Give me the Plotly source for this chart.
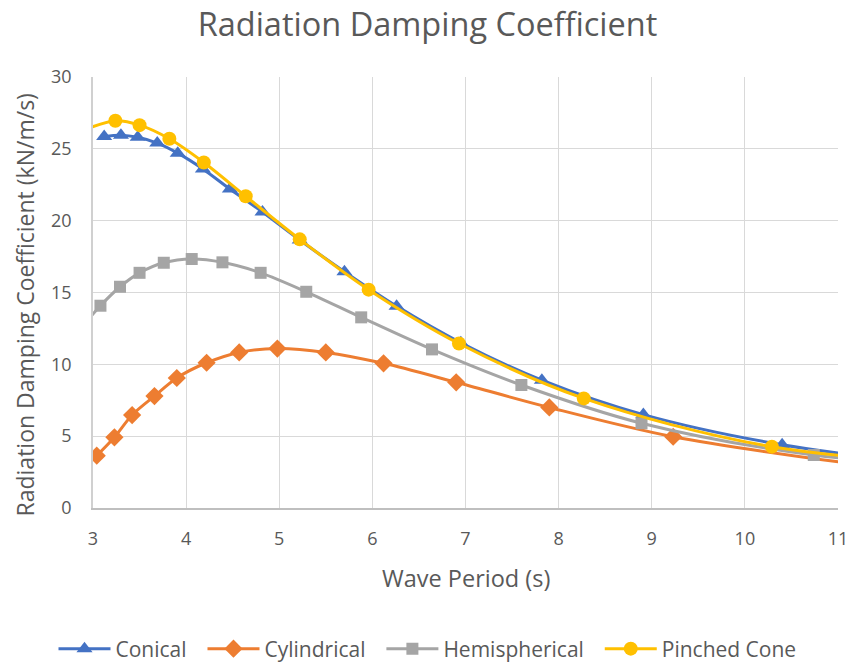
import plotly.graph_objects as go

# Wave period (s) and radiation damping coefficient (kN/m/s)
conical_t = [3.12, 3.30, 3.48, 3.69, 3.91, 4.18, 4.47, 4.82, 5.22, 5.70, 6.26, 6.95, 7.82, 8.91, 10.40, 12.57]
conical_b = [25.85, 25.95, 25.8, 25.4, 24.7, 23.6, 22.2, 20.6, 18.65, 16.45, 14.05, 11.5, 8.9, 6.5, 4.4, 2.6]

cyl_t = [3.04, 3.23, 3.42, 3.66, 3.90, 4.22, 4.57, 4.98, 5.50, 6.12, 6.90, 7.90, 9.23, 11.15]
cyl_b = [3.64, 4.92, 6.47, 7.79, 9.05, 10.11, 10.83, 11.1, 10.83, 10.07, 8.75, 7.0, 4.96, 3.08]

hemi_t = [2.92, 3.08, 3.29, 3.50, 3.76, 4.06, 4.39, 4.80, 5.29, 5.88, 6.64, 7.60, 8.89, 10.74, 13.5]
hemi_b = [12.9, 14.08, 15.4, 16.37, 17.07, 17.33, 17.1, 16.37, 15.05, 13.27, 11.04, 8.56, 5.9, 3.69, 2.3]

pinched_t = [2.90, 3.24, 3.50, 3.82, 4.19, 4.64, 5.22, 5.96, 6.93, 8.27, 10.29, 13.96]
pinched_b = [26.3, 26.95, 26.65, 25.7, 24.05, 21.7, 18.7, 15.2, 11.45, 7.63, 4.27, 2.3]

x_ticks = [3, 4, 5, 6, 7, 8, 9, 10, 11]
y_ticks = [0, 5, 10, 15, 20, 25, 30]

FONT = "Open Sans"
TXT = "#595959"
PAD = "\u00a0\u00a0"

fig = go.Figure()

series = [
    ("Conical" + PAD, conical_t, conical_b, "#4472C4", "triangle-up", 14),
    ("Cylindrical" + PAD, cyl_t, cyl_b, "#ED7D31", "diamond", 14),
    ("Hemispherical" + PAD, hemi_t, hemi_b, "#A5A5A5", "square", 12),
    ("Pinched Cone", pinched_t, pinched_b, "#FFC000", "circle", 14),
]
for name, t, b, col, sym, sz in series:
    fig.add_trace(go.Scatter(
        x=t, y=b, name=name, mode="lines+markers",
        line=dict(color=col, width=3, shape="spline", smoothing=0.9),
        marker=dict(symbol=sym, size=sz, color=col, line=dict(width=0)),
    ))

fig.update_layout(
    width=855, height=663,
    paper_bgcolor="white", plot_bgcolor="white",
    margin=dict(l=93, r=17, t=77, b=155),
    font=dict(family=FONT, color=TXT, size=18),
    title=dict(text="Radiation Damping Coefficient", x=0.5, xref="container",
               xanchor="center", y=1 - 25 / 663, yref="container", yanchor="middle",
               font=dict(size=32.5, color=TXT, family=FONT)),
    legend=dict(orientation="h", x=0.5, xref="container", xanchor="center",
                y=1 - 649 / 663, yref="container", yanchor="middle",
                font=dict(size=21, color=TXT, family=FONT),
                itemwidth=52, tracegroupgap=0),
    showlegend=True,
    annotations=[
        dict(text="Wave Period (s)", xref="paper", yref="paper", x=0.5, y=-(578 - 508) / 431,
             xanchor="center", yanchor="middle", showarrow=False,
             font=dict(size=23.5, color=TXT, family=FONT)),
        dict(text="Radiation Damping Coefficient (kN/m/s)", xref="paper", yref="paper",
             x=-(93 - 24) / 745, y=0.5 - 13 / 431, xanchor="center", yanchor="middle",
             showarrow=False, textangle=-90,
             font=dict(size=23, color=TXT, family=FONT)),
    ],
)
fig.update_xaxes(
    range=[3, 11], tickvals=x_ticks, ticktext=[str(v) for v in x_ticks],
    showgrid=True, gridcolor="#D9D9D9", gridwidth=1,
    showline=True, linecolor="#BFBFBF", linewidth=1.5,
    zeroline=False, ticks="", tickfont=dict(size=18, color=TXT),
    ticklabelstandoff=14, automargin=False,
)
fig.update_yaxes(
    range=[0, 30], tickvals=y_ticks, ticktext=[str(v) for v in y_ticks],
    showgrid=True, gridcolor="#D9D9D9", gridwidth=1,
    showline=True, linecolor="#D0D0D0", linewidth=1.5,
    zeroline=False, ticks="", tickfont=dict(size=18, color=TXT),
    ticklabelstandoff=16, automargin=False,
)

fig.write_html("out.html", config={"displayModeBar": False},
               post_script="document.body.style.margin='0';document.body.style.padding='0';")
